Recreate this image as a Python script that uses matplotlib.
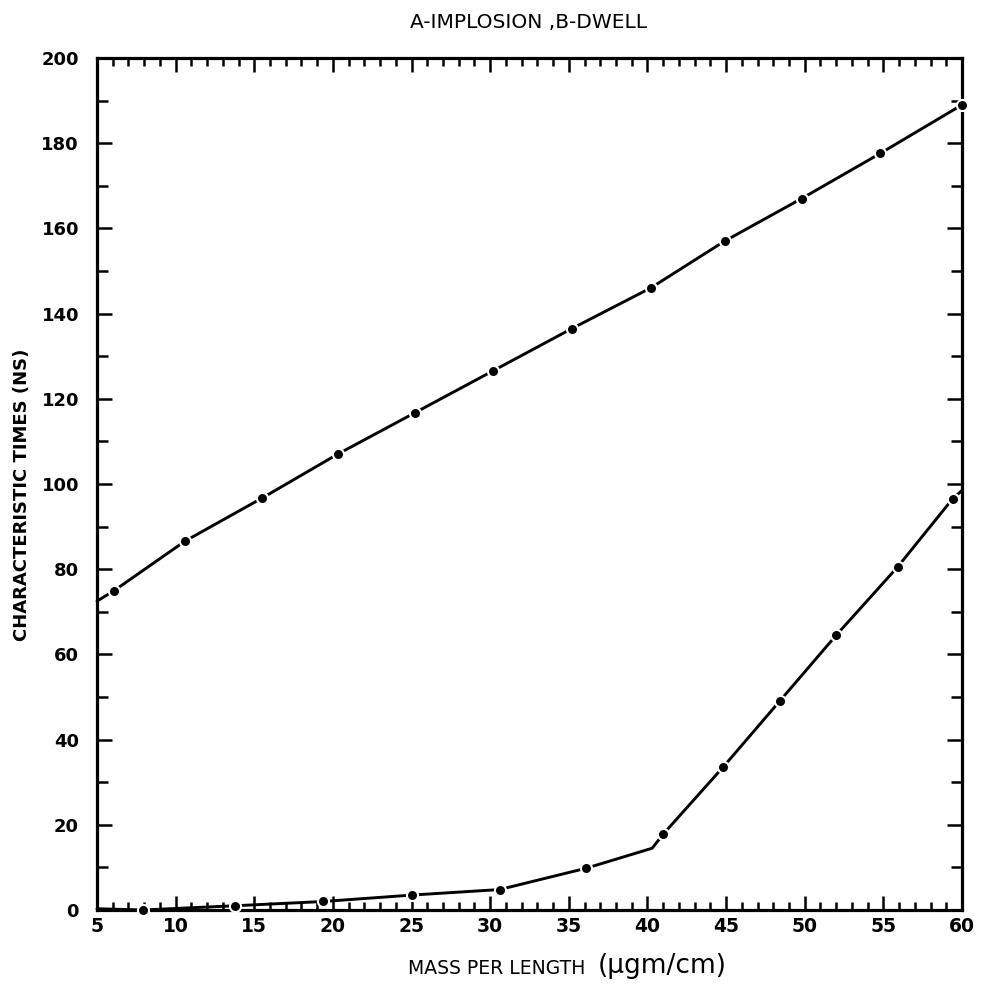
import matplotlib
matplotlib.use("Agg")
import matplotlib.pyplot as plt
from matplotlib.ticker import MultipleLocator

# Data
implosion_x = [5.0, 6.1, 10.6, 15.5, 20.3, 25.2, 30.2, 35.2, 40.2, 44.9, 49.8, 54.8, 60.0]
implosion_y = [72.5, 75.0, 86.6, 96.7, 107.0, 116.7, 126.6, 136.5, 146.0, 157.0, 167.0, 177.6, 189.0]
implosion_marked = [False, True, True, True, True, True, True, True, True, True, True, True, True]

dwell_x = [5.0, 7.9, 13.8, 19.4, 25.0, 30.6, 36.1, 40.3, 41.0, 44.8, 48.4, 52.0, 55.9, 59.4, 60.0]
dwell_y = [0.3, 0.0, 1.0, 2.0, 3.5, 4.8, 9.8, 14.5, 17.8, 33.5, 49.0, 64.5, 80.5, 96.5, 98.5]
dwell_marked = [False, True, True, True, True, True, True, False, True, True, True, True, True, True, False]

x_ticks = [5, 10, 15, 20, 25, 30, 35, 40, 45, 50, 55, 60]
y_ticks = [0, 20, 40, 60, 80, 100, 120, 140, 160, 180, 200]

title = "A-IMPLOSION ,B-DWELL"
xlabel_a = "MASS PER LENGTH"
xlabel_b = "(μgm/cm)"
ylabel = "CHARACTERISTIC TIMES (NS)"

W, H = 988, 984
fig = plt.figure(figsize=(W / 100, H / 100), dpi=100)
left, right, top, bottom = 97, 962, 58, 910
ax = fig.add_axes([left / W, 1 - bottom / H, (right - left) / W, (bottom - top) / H])

lw = 2.1
for xs, ys, mk in [(implosion_x, implosion_y, implosion_marked), (dwell_x, dwell_y, dwell_marked)]:
    ax.plot(xs, ys, color="black", lw=lw, solid_capstyle="round", zorder=3, clip_on=False)
    mx = [x for x, m in zip(xs, mk) if m]
    my = [y for y, m in zip(ys, mk) if m]
    ax.plot(mx, my, linestyle="none", marker="o", ms=8, mfc="black", mec="white", mew=1.5,
            zorder=4, clip_on=False)

ax.set_xlim(5, 60)
ax.set_ylim(0, 200)

for s in ax.spines.values():
    s.set_linewidth(2.3)

ax.xaxis.set_major_locator(MultipleLocator(5))
ax.xaxis.set_minor_locator(MultipleLocator(1))
ax.yaxis.set_major_locator(MultipleLocator(20))
ax.yaxis.set_minor_locator(MultipleLocator(10))

ax.tick_params(axis="x", which="both", direction="in", top=True, bottom=True, width=1.8)
ax.tick_params(axis="y", which="both", direction="in", left=True, right=True, width=1.8)
ax.tick_params(axis="x", which="major", length=10, pad=5)
ax.tick_params(axis="x", which="minor", length=6)
ax.tick_params(axis="y", which="major", length=11, pad=13)
ax.tick_params(axis="y", which="minor", length=8)

ax.set_xticks(x_ticks)
ax.set_xticklabels([str(v) for v in x_ticks], fontsize=13.5, fontweight="bold")
ax.set_yticks(y_ticks)
ax.set_yticklabels([str(v) for v in y_ticks], fontsize=13, fontweight="bold")

fig.text(528 / W, 1 - 22 / H, title, ha="center", va="center", fontsize=14.5,
         family="DejaVu Sans")
fig.text(22 / W, 1 - 495 / H, ylabel, rotation=90, ha="center", va="center",
         fontsize=13, fontweight="bold")
fig.text(585 / W, 1 - 969 / H, xlabel_a, ha="right", va="center", fontsize=13.5)
fig.text(598 / W, 1 - 966 / H, xlabel_b, ha="left", va="center", fontsize=19)

fig.savefig("out.png", dpi=100, facecolor="white")
